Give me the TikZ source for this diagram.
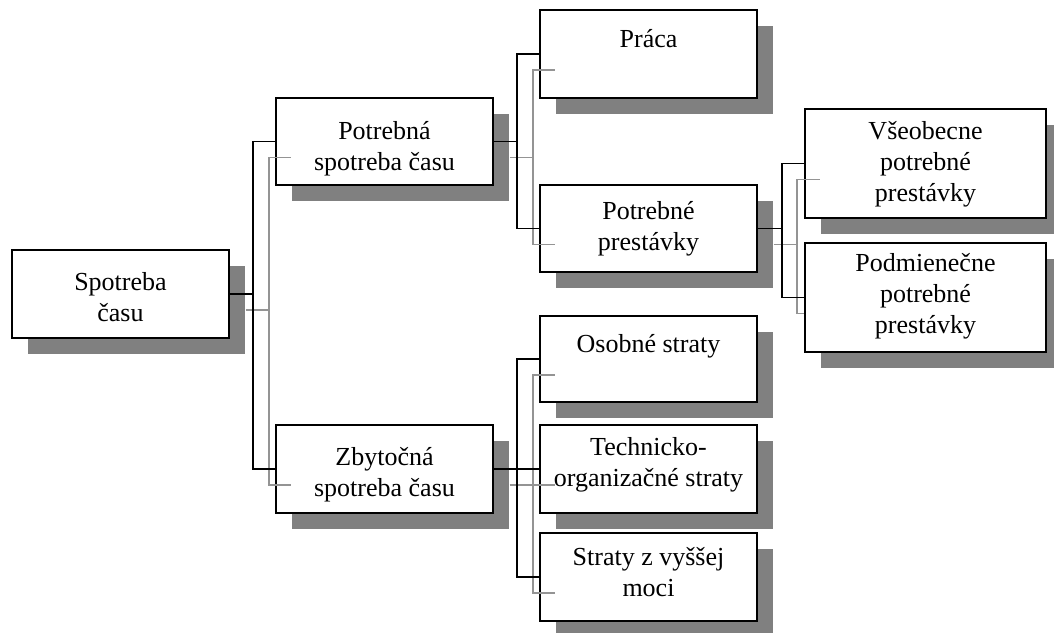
\documentclass[tikz,border=0pt]{standalone}
\usepackage{fontspec}
\setmainfont{Liberation Serif}
\usetikzlibrary{shadows}
\begin{document}
\begin{tikzpicture}[x=1pt,y=-1pt,
  box/.style={draw=black,line width=1.7pt,fill=white,inner sep=0pt,
    minimum width=217pt,minimum height=88pt,
    drop shadow={shadow xshift=16pt,shadow yshift=-16pt,opacity=1,fill=black!50,draw=none}},
  wide/.style={minimum width=241pt,minimum height=109pt},
  txt/.style={anchor=north,inner sep=0pt,align=center,font=\fontsize{26}{31}\selectfont},
  conn/.style={draw=black,line width=1.7pt},
  sconn/.style={draw=black!42,line width=1.6pt},
  sh/.style={xshift=16pt,yshift=-16pt}]
\useasboundingbox (0,0) rectangle (1054,632);
\clip (0,0) rectangle (1054,632);
% boxes
\node[box] (B1) at (120.5,294) {};
\node[box,minimum height=87pt] (B2) at (384.5,141.5) {};
\node[box] (B3) at (384.5,469) {};
\node[box] (P) at (648.5,54) {};
\node[box,minimum height=87pt] (PP) at (648.5,228.5) {};
\node[box,wide] (V) at (925.5,163.5) {};
\node[box,wide] (Pm) at (925.5,297.5) {};
\node[box,minimum height=86pt] (O) at (648.5,359) {};
\node[box] (T) at (648.5,469) {};
\node[box] (S) at (648.5,577) {};
% shadow connectors
\draw[sconn] ([sh]B1.east) -- ++(23,0) |- ([sh]B2.west);
\draw[sconn] ([sh]B1.east) -- ++(23,0) |- ([sh]B3.west);
\draw[sconn] ([sh]B2.east) -- ++(23,0) |- ([sh]P.west);
\draw[sconn] ([sh]B2.east) -- ++(23,0) |- ([sh]PP.west);
\draw[sconn] ([sh]PP.east) -- ++(23,0) |- ([sh]V.west);
\draw[sconn] ([sh]PP.east) -- ++(23,0) |- ([yshift=-16pt]Pm.west);
\draw[sconn] ([sh]B3.east) -- ++(23,0) |- ([sh]O.west);
\draw[sconn] ([sh]B3.east) -- ++(23,0) |- ([sh]T.west);
\draw[sconn] ([sh]B3.east) -- ++(23,0) |- ([sh]S.west);
% connectors
\draw[conn] (B1.east) -- ++(23,0) |- (B2.west);
\draw[conn] (B1.east) -- ++(23,0) |- (B3.west);
\draw[conn] (B2.east) -- ++(23,0) |- (P.west);
\draw[conn] (B2.east) -- ++(23,0) |- (PP.west);
\draw[conn] (PP.east) -- ++(24,0) |- (V.west);
\draw[conn] (PP.east) -- ++(24,0) |- (Pm.west);
\draw[conn] (B3.east) -- ++(23,0) |- (O.west);
\draw[conn] (B3.east) -- ++(23,0) |- (T.west);
\draw[conn] (B3.east) -- ++(23,0) |- (S.west);
% texts
\node[txt] (t1) at (120.5,272) {Spotreba\\času};
\node[txt] (t2) at (384.5,121) {Potrebná\\spotreba času};
\node[txt] (t3) at (384.5,447) {Zbytočná\\spotreba času};
\node[txt] (tP) at (648.5,29) {Práca};
\node[txt] (tPP) at (648.5,201) {Potrebné\\prestávky};
\node[txt] (tV) at (925.5,121) {Všeobecne\\potrebné\\prestávky};
\node[txt] (tPm) at (925.5,253) {Podmienečne\\potrebné\\prestávky};
\node[txt] (tO) at (648.5,334) {Osobné straty};
\node[txt] (tT) at (648.5,437) {Technicko-\\organizačné straty};
\node[txt] (tS) at (648.5,547) {Straty z vyššej\\moci};
\end{tikzpicture}
\end{document}
